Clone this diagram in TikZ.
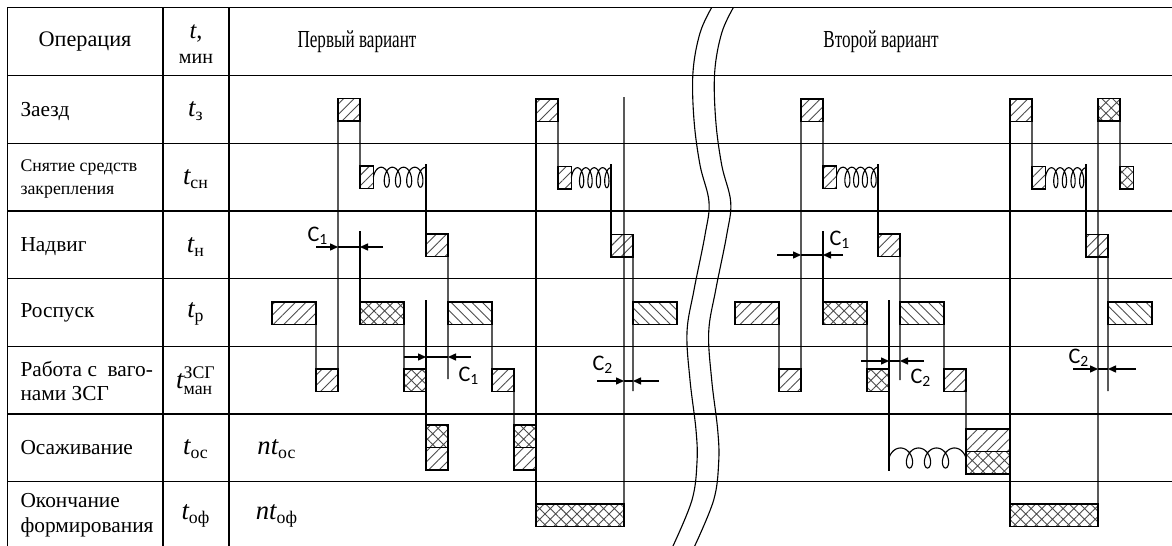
\documentclass[tikz,border=0pt]{standalone}
\usepackage{amsmath}
\usepackage{fontspec}
\setmainfont{Liberation Serif}
\newfontfamily\clbfont{Carlito}
\usetikzlibrary{arrows.meta,patterns.meta}
% spring: start, length, end phase (in pi), half height, loop half width (all in px)
\newcommand{\spring}[5]{%
  \draw[shift={(#1)}] plot[domain=0.5*pi:#3*pi, samples=160, smooth, variable=\t]
    ({(#2-#5*(1-sin(#3*180)))/((#3-0.5)*pi)*(\t-0.5*pi)-#5*(sin(\t r)-1)}, {#4*cos(\t r)});}

\begin{document}
\begin{tikzpicture}[x=0.45pt, y=-0.45pt, >={Triangle[length=3.6pt,width=3.2pt]},
    font=\fontsize{9.6}{11}\selectfont, line width=0.5pt]
  \tikzset{
    box/.style={draw, inner sep=0pt, outer sep=0pt, anchor=north west, minimum width=9.9pt, minimum height=10.1pt},
    wbox/.style={box, minimum width=19.8pt},
    nbox/.style={box, minimum width=6pt},
    lbox/.style={box, minimum width=39.6pt},
    ne/.style={pattern={Lines[angle=45,distance=3.3pt,line width=0.4pt]}, pattern color=black!70},
    nw/.style={pattern={Lines[angle=-45,distance=3.3pt,line width=0.4pt]}, pattern color=black!70},
    cr/.style={pattern={Hatch[angle=45,distance=3.4pt,line width=0.4pt]}, pattern color=black!70},
    grid/.style={line width=0.6pt},
    clab/.style={font=\clbfont\fontsize{10}{11}\selectfont, inner sep=0pt},
    tlab/.style={font=\fontsize{12}{13}\selectfont},
    rlab/.style={anchor=west, align=left, inner sep=0pt},
    hlab/.style={font=\fontsize{10}{12}\selectfont}
  }
  \useasboundingbox (0,0) rectangle (1172,546);

  % table
  \draw[grid] (1172,7.5) -- (7.5,7.5) -- (7.5,546);
  \foreach \yy in {75.5,143.3,211,278.7,346.3,414,481.7}
    \draw[grid] (7.5,\yy) -- (1172,\yy);
  \draw[grid] (163,7.5) -- (163,546);
  \draw[grid] (229,7.5) -- (229,546);

  % break between the two variants
  \foreach \dx in {0,21.7}
    \draw[shift={(\dx,0)}] plot[smooth, tension=0.6] coordinates {(711.7,7.5) (700,33) (693,72) (694,120) (700,165) (709,202) (705,235) (694,290) (687,332) (690,380) (696,430) (697,462) (692,500) (673,546)};

  % header
  \node[hlab] (hop) at (85,42) {Операция};
  \node[align=center, inner sep=0pt] (ht) at (196,44) {{\fontsize{11}{12}\selectfont\textit{t},}\\{\fontsize{9}{12}\selectfont мин}};
  \node[hlab] (hv1) at (357,42) {\fontsize{11}{12}\selectfont\scalebox{0.7}[1]{Первый вариант}};
  \node[hlab] (hv2) at (881,42) {\fontsize{11}{12}\selectfont\scalebox{0.7}[1]{Второй вариант}};

  % operations
  \node[rlab] (lz) at (20,111) {Заезд};
  \node[rlab, font=\fontsize{8}{10}\selectfont] (ls) at (20,179) {Снятие средств\\закрепления};
  \node[rlab] (ln) at (20,247) {Надвиг};
  \node[rlab] (lr) at (20,313) {Роспуск};
  \node[rlab] (lw) at (20,381) {Работа с~ ваго-\\нами ЗСГ};
  \node[rlab] (lo) at (20,448) {Осаживание};
  \node[rlab] (lf) at (20,515) {Окончание\\формирования};

  % times
  \node[tlab] (tz) at (196,111) {$\textit{t}_{\text{з}}$};
  \node[tlab] (ts) at (196,179) {$\textit{t}_{\text{сн}}$};
  \node[tlab] (tn) at (196,247) {$\textit{t}_{\text{н}}$};
  \node[tlab] (tr) at (196,314) {$\textit{t}_{\text{р}}$};
  \node[tlab] (tw) at (196,381) {$\textit{t}_{\text{ман}}^{\text{ЗСГ}}$};
  \node[tlab] (to) at (196,449) {$\textit{t}_{\text{ос}}$};
  \node[tlab] (tf) at (196,516) {$\textit{t}_{\text{оф}}$};
  \node[tlab] (nto) at (277,449) {$\textit{nt}_{\text{ос}}$};
  \node[tlab] (ntf) at (277,516) {$\textit{nt}_{\text{оф}}$};

  % first variant
  \node[box, ne] (z1) at (338,98.5) {};
  \node[nbox, ne] (s1) at (360,166) {};
  \node[box, ne] (n1) at (426,234) {};
  \node[wbox, ne] (r1) at (272,302) {};
  \node[wbox, cr] (r2) at (360,302) {};
  \node[wbox, nw] (r3) at (448,302) {};
  \node[box, ne] (w1) at (316,369) {};
  \node[box, cr] (w2) at (404,369) {};
  \node[box, ne] (w3) at (492,369) {};
  \node[box, cr] (o1a) at (426,425) {};
  \node[box, ne] (o1b) at (426,447.5) {};
  \node[box, cr] (o2a) at (514,425) {};
  \node[box, ne] (o2b) at (514,447.5) {};
  \node[box, ne] (z2) at (536,99) {};
  \node[nbox, ne] (s2) at (558,166.5) {};
  \node[box, ne] (n2) at (611,234.5) {};
  \node[wbox, nw] (r4) at (633,302) {};
  \node[lbox, cr] (f1) at (536,504) {};
  \coordinate (e1) at (426,164);
  \coordinate (e2) at (611,164);
  \coordinate (k1) at (360,231);
  \coordinate (k2) at (448,379);
  \coordinate (k3) at (426,300);
  \coordinate (k4) at (624,97);
  \coordinate (k5) at (633,391);
  \draw (r1.south east) -- (w1.north west);
  \draw (w1.south east) -- (z1.south west);
  \draw (z1.south east) -- (s1.north west);
  \spring{s1.east}{52.7}{9}{10}{5}
  \draw (e1) -- (n1.north west);
  \draw (k1) -- (r2.north west);
  \draw (n1.south east) -- (k2);
  \draw (r2.south east) -- (w2.north west);
  \draw (k3) -- (o1b.south west);
  \draw (r3.south east) -- (w3.north west);
  \draw (w3.south east) -- (o2a.north west);
  \draw (z2.south west) -- (f1.south west);
  \draw (z2.south east) -- (s2.north west);
  \spring{s2.east}{39.7}{9}{10}{4}
  \draw (e2) -- (n2.north west);
  \draw (k4) -- (f1.south east);
  \draw (n2.south east) -- (k5);

  % second variant
  \node[box, ne] (z3) at (801,99) {};
  \node[nbox, ne] (s3) at (823,166) {};
  \node[box, ne] (n3) at (878,234) {};
  \node[wbox, ne] (r5) at (735,302) {};
  \node[wbox, cr] (r6) at (823,302) {};
  \node[wbox, nw] (r7) at (900,302) {};
  \node[box, ne] (w4) at (779,369) {};
  \node[box, cr] (w5) at (867,369) {};
  \node[box, ne] (w6) at (944,369) {};
  \node[wbox, ne] (o3a) at (966,429) {};
  \node[wbox, cr] (o3b) at (966,451.5) {};
  \node[box, ne] (z4) at (1010,99) {};
  \node[nbox, ne] (s4) at (1032,166.5) {};
  \node[box, ne] (n4) at (1086,234.5) {};
  \node[wbox, nw] (r8) at (1108,302) {};
  \node[box, cr] (z5) at (1098,98.5) {};
  \node[nbox, cr] (s5) at (1120,166.5) {};
  \node[lbox, cr] (f2) at (1010,504) {};
  \coordinate (e3) at (878,164);
  \coordinate (e4) at (1086,164);
  \coordinate (k6) at (823,231);
  \coordinate (k7) at (900,380);
  \coordinate (k8) at (889,300);
  \coordinate (k9) at (889,471);
  \coordinate (k10) at (1108,391);
  \coordinate (k11) at (889,458);
  \draw (r5.south east) -- (w4.north west);
  \draw (w4.south east) -- (z3.south west);
  \draw (z3.south east) -- (s3.north west);
  \spring{s3.east}{41.7}{9}{10}{4.5}
  \draw (e3) -- (n3.north west);
  \draw (k6) -- (r6.north west);
  \draw (n3.south east) -- (k7);
  \draw (r6.south east) -- (w5.north west);
  \draw (k8) -- (k9);
  \spring{k11}{77}{7.5}{10}{7}
  \draw (r7.south east) -- (w6.north west);
  \draw (w6.south east) -- (o3a.north west);
  \draw (z4.south west) -- (f2.south west);
  \draw (z4.south east) -- (s4.north west);
  \spring{s4.east}{40.7}{9}{10}{4}
  \draw (e4) -- (n4.north west);
  \draw (z5.north west) -- (f2.south east);
  \draw (z5.south east) -- (s5.north west);
  \draw (n4.south east) -- (k10);

  % intervals C1, C2
  \foreach \nm/\yy/\xl/\xa/\xb/\xr in {da/247/316/338/360/383, db/357/404/426/448/471,
      dc/381/597/624/633/659, dd/255/777/801/823/843, de/361/861/889/900/924, df/369/1073/1098/1108/1136} {
    \coordinate (\nm l) at (\xl,\yy);
    \coordinate (\nm a) at (\xa,\yy);
    \coordinate (\nm b) at (\xb,\yy);
    \coordinate (\nm r) at (\xr,\yy);
    \draw[->] (\nm l) -- (\nm a);
    \draw (\nm a) -- (\nm b);
    \draw[->] (\nm r) -- (\nm b);
  }
  \node[clab] (ca) at (318,236) {C\textsubscript{1}};
  \node[clab] (cb) at (469,376) {C\textsubscript{1}};
  \node[clab] (cc) at (603,365) {C\textsubscript{2}};
  \node[clab] (cd) at (840,240) {C\textsubscript{1}};
  \node[clab] (ce) at (921,378) {C\textsubscript{2}};
  \node[clab] (cf) at (1079,358) {C\textsubscript{2}};
\end{tikzpicture}
\end{document}
